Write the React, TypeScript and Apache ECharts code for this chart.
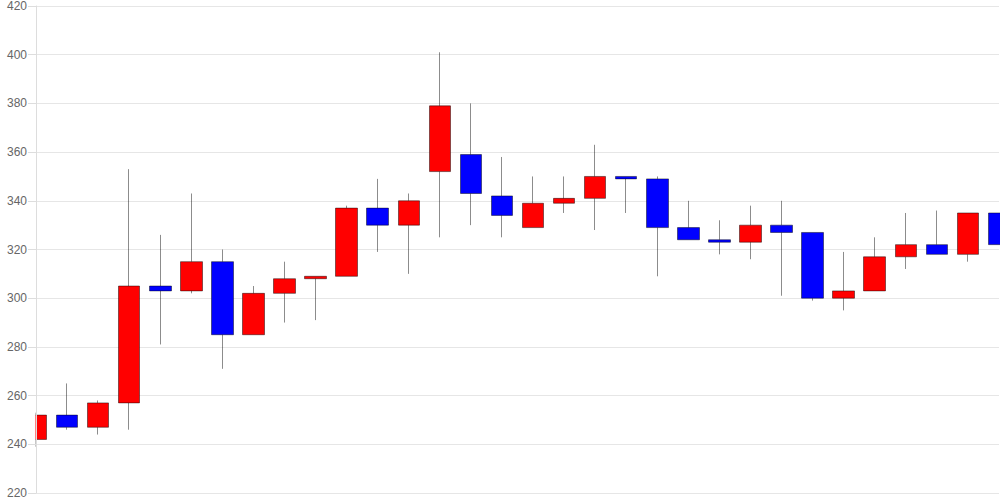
import React, { useEffect, useRef } from "react";
import * as echarts from "echarts";

const categories: string[] = [
  "1", "2", "3", "4", "5", "6", "7", "8", "9", "10", "11", "12", "13", "14", "15", "16",
  "17", "18", "19", "20", "21", "22", "23", "24", "25", "26", "27", "28", "29", "30", "31", "32",
];
const opens: number[] = [242, 252, 247, 257, 305, 303, 315, 285, 302, 308, 309, 337, 330, 352, 359, 342, 329, 339, 341, 350, 349, 329, 324, 323, 330, 327, 300, 303, 317, 322, 318, 335];
const closes: number[] = [252, 247, 257, 305, 303, 315, 285, 302, 308, 309, 337, 330, 340, 379, 343, 334, 339, 341, 350, 349, 329, 324, 323, 330, 327, 300, 303, 317, 322, 318, 335, 322];
const lows: number[] = [239, 246, 244, 246, 281, 302, 271, 285, 290, 291, 309, 319, 310, 325, 330, 325, 329, 335, 328, 335, 309, 324, 318, 316, 301, 299, 295, 303, 312, 318, 315, 322];
const highs: number[] = [253, 265, 258, 353, 326, 343, 320, 305, 315, 309, 338, 349, 343, 401, 380, 358, 350, 350, 363, 350, 350, 340, 332, 338, 340, 327, 319, 325, 335, 336, 335, 335];

export default function App() {
  const ref = useRef<HTMLDivElement>(null);
  useEffect(() => {
    if (!ref.current) return;
    const chart = echarts.init(ref.current, undefined, { renderer: "svg" });
    const data = categories.map((_, i) => [opens[i], closes[i], lows[i], highs[i]]);
    const gridLeft = 36;
    chart.setOption({
      animation: false,
      grid: { left: gridLeft, right: 1, top: 6, bottom: 7 },
      xAxis: {
        type: "category",
        data: categories,
        boundaryGap: false,
        axisLine: { show: false },
        axisTick: { show: false },
        axisLabel: { show: false },
        splitLine: { show: false },
      },
      yAxis: [
        {
          type: "value",
          min: 220,
          max: 420,
          interval: 20,
          z: 0,
          axisLine: { show: false },
          axisTick: { show: false },
          axisLabel: { show: false },
          splitLine: { show: true, lineStyle: { color: "#e6e6e6" } },
        },
        {
          type: "value",
          position: "left",
          min: 220,
          max: 420,
          interval: 20,
          z: 20,
          axisLine: { show: true, onZero: false, lineStyle: { color: "#dddddd" } },
          axisTick: { show: true, length: 8, lineStyle: { color: "#dddddd" } },
          axisLabel: { color: "#666666", fontSize: 12, fontFamily: "Liberation Sans, Arial, sans-serif", margin: 9 },
          splitLine: { show: false },
        },
      ],
      graphic: [
        {
          type: "rect",
          z: 10,
          shape: { x: 0, y: 0, width: gridLeft - 0.5, height: 500 },
          style: { fill: "#ffffff" },
        },
      ],
      series: [
        {
          type: "candlestick",
          data,
          yAxisIndex: 0,
          barWidth: 22,
          clip: true,
          z: 2,
          itemStyle: {
            color: "#ff0000",
            color0: "#0000ff",
            borderColor: "rgba(0,0,0,0.45)",
            borderColor0: "rgba(0,0,0,0.45)",
            borderWidth: 1,
          },
        },
      ],
    });
    return () => chart.dispose();
  }, []);
  return <div ref={ref} style={{ width: 1000, height: 500, position: "absolute", left: 0, top: 0 }} />;
}
